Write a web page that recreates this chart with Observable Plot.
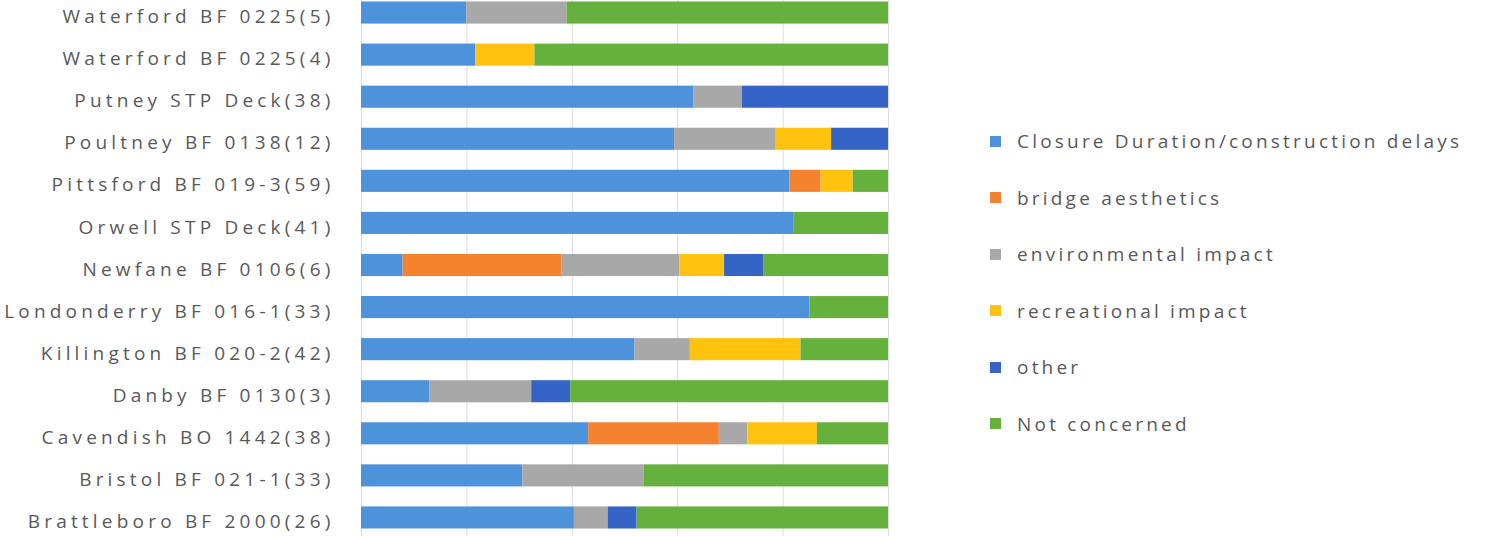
<!DOCTYPE html>
<html>
<head>
<meta charset="utf-8">
<script src="https://cdn.jsdelivr.net/npm/d3@7"></script>
<script src="https://cdn.jsdelivr.net/npm/@observablehq/plot@0.6"></script>
<style>
  html, body { margin: 0; padding: 0; background: #fff; }
  #wrap { position: relative; width: 1504px; height: 536px; overflow: hidden; font-family: "Open Sans", sans-serif; }
  #chart { position: absolute; left: 0; top: 0; }
  #legend { position: absolute; left: 990px; top: 113px; }
  .item { display: flex; align-items: center; height: 56.5px; font-size: 19px; color: #595959; letter-spacing: 3.2px; white-space: nowrap; }
  .sw { width: 11px; height: 11px; margin-right: 16px; flex: none; }
  #chart svg text { letter-spacing: 4.2px; }
</style>
</head>
<body>
<div id="wrap"><div id="chart"></div><div id="legend"></div></div>
<script>
const bridges = [
  "Waterford BF 0225(5)", "Waterford BF 0225(4)", "Putney STP Deck(38)", "Poultney BF 0138(12)",
  "Pittsford BF 019-3(59)", "Orwell STP Deck(41)", "Newfane BF 0106(6)", "Londonderry BF 016-1(33)",
  "Killington BF 020-2(42)", "Danby BF 0130(3)", "Cavendish BO 1442(38)", "Bristol BF 021-1(33)",
  "Brattleboro BF 2000(26)"
];
const concerns = ["Closure Duration/construction delays", "bridge aesthetics", "environmental impact", "recreational impact", "other", "Not concerned"];
const colors = ["#4C93DB", "#F5822E", "#A8A8A8", "#FFC20E", "#3564C6", "#66B03E"];

const closure      = [0.20, 0.217, 0.631, 0.594, 0.813, 0.82, 0.079, 0.851, 0.519, 0.13, 0.431, 0.306, 0.404];
const aesthetics   = [0,    0,     0,     0,     0.059, 0,    0.301, 0,     0,     0,    0.248, 0,     0];
const environment  = [0.19, 0,     0.092, 0.193, 0,     0,    0.224, 0,     0.105, 0.193,0.054, 0.23,  0.064];
const recreational = [0,    0.112, 0,     0.105, 0.061, 0,    0.085, 0,     0.21,  0,    0.132, 0,     0];
const other        = [0,    0,     0.277, 0.108, 0,     0,    0.074, 0,     0,     0.074,0,     0,     0.055];
const notConcerned = [0.61, 0.671, 0,     0,     0.067, 0.18, 0.237, 0.149, 0.166, 0.603,0.135, 0.464, 0.477];

const series = [closure, aesthetics, environment, recreational, other, notConcerned];
const data = [];
bridges.forEach((b, i) => concerns.forEach((c, j) => data.push({bridge: b, concern: c, value: series[j][i]})));

const chart = Plot.plot({
  width: 900,
  height: 536,
  marginLeft: 361,
  marginRight: 12,
  marginTop: 0,
  marginBottom: 0,
  style: {fontFamily: "Open Sans, sans-serif", fontSize: "19px", color: "#595959", background: "#fff"},
  x: {domain: [0, 1], range: [361, 888], axis: null},
  y: {domain: bridges, range: [-8.5, 538.5], paddingInner: 0.475, paddingOuter: 0.2375, round: false, label: null},
  color: {domain: concerns, range: colors},
  marks: [
    Plot.gridX({ticks: [0, 0.2, 0.4, 0.6, 0.8, 1], stroke: "#dcdcdc", strokeOpacity: 1}),
    Plot.barX(data, Plot.stackX({x: "value", y: "bridge", fill: "concern", order: concerns})),
    Plot.axisY({tickSize: 0, tickPadding: 27, dy: 4, fontSize: 19, fill: "#595959"})
  ]
});
document.getElementById("chart").appendChild(chart);

const legend = document.getElementById("legend");
concerns.forEach((c, j) => {
  const row = document.createElement("div");
  row.className = "item";
  const sw = document.createElement("span");
  sw.className = "sw";
  sw.style.background = colors[j];
  const t = document.createElement("span");
  t.textContent = c;
  row.appendChild(sw); row.appendChild(t);
  legend.appendChild(row);
});
</script>
</body>
</html>
